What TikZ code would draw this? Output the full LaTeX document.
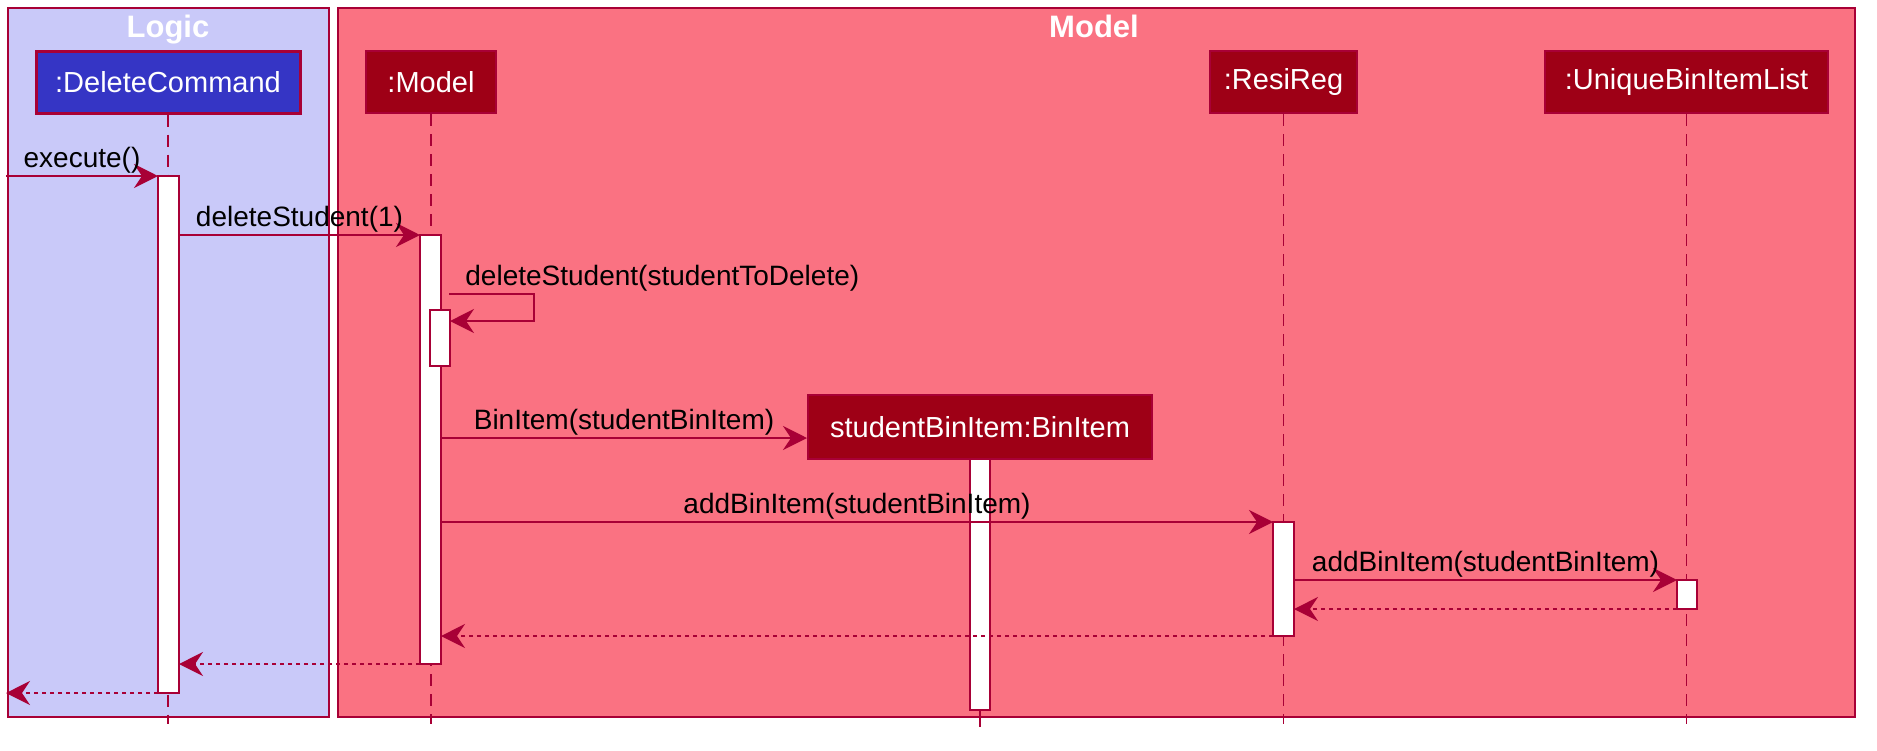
\documentclass[tikz,border=0pt]{standalone}
\usepackage{fontspec}
\setmainfont{Liberation Sans}
\usetikzlibrary{arrows.meta,fit}

\definecolor{umlred}{HTML}{A80036}
\definecolor{logicbg}{HTML}{C9C9F9}
\definecolor{modelbg}{HTML}{FA7282}
\definecolor{logichead}{HTML}{3535C5}
\definecolor{modelhead}{HTML}{9E0016}

\begin{document}
\begin{tikzpicture}[x=0.5pt, y=-0.5pt,
  >={Stealth[length=12pt,width=12pt,inset=4pt]},
  lane/.style={draw=umlred, line width=1pt},
  lanetitle/.style={text=white, font=\fontsize{15.5}{18}\selectfont\bfseries, anchor=base},
  head/.style={draw=umlred, line width=1pt, fill=modelhead, text=white,
    font=\fontsize{14.5}{17}\selectfont, minimum height=31pt, inner sep=0pt},
  life/.style={draw=umlred, line width=0.75pt, dash pattern=on 6pt off 4pt},
  act/.style={draw=umlred, line width=1pt, fill=white, inner sep=0pt, outer sep=0pt},
  msg/.style={->, draw=umlred, line width=1pt},
  ret/.style={msg, dash pattern=on 2pt off 2pt},
  lbl/.style={midway, above, inner sep=0.8pt, font=\fontsize{14}{16}\selectfont}]

  \useasboundingbox[fill=white] (0,0) rectangle (1877,750);

  % Lanes
  \draw[lane, fill=logicbg] (8,8) rectangle (329,717);
  \draw[lane, fill=modelbg] (338,8) rectangle (1855,717);
  \node[lanetitle] (tLogic) at (168,37) {Logic};
  \node[lanetitle] (tModel) at (1094,37) {Model};

  % Participants
  \node[head, fill=logichead, line width=1.5pt, minimum width=132pt] (hDC) at (168,82) {:DeleteCommand};
  \node[head, minimum width=65pt] (hModel) at (431,82) {:Model};
  \node[head, minimum width=73.5pt] (hResi) at (1283.5,82) {:ResiReg};
  \node[head, minimum width=141.5pt] (hList) at (1686.5,82) {:UniqueBinItemList};
  \node[head, minimum width=172pt, minimum height=32pt] (hBin) at (980,427) {studentBinItem:BinItem};

  % Lifelines
  \draw[life] (hDC) -- (hDC |- 0,724);
  \draw[life] (hModel) -- (hModel |- 0,724);
  \draw[life] (hResi) -- (hResi |- 0,724);
  \draw[life] (hList) -- (hList |- 0,724);
  \draw[umlred, line width=0.75pt] (hBin) -- (hBin |- 0,727);

  % Activations
  \node[act, fit={(158,176) (179,693)}] (actDC) {};
  \node[act, fit={(420,235) (441,664)}] (actM) {};
  \node[act, fit={(430,310) (450,366)}] (actN) {};
  \node[act, fit={(970,459) (990,710)}] (actBin) {};
  \node[act, fit={(1273,522) (1294,636)}] (actR) {};
  \node[act, fit={(1677,580) (1697,609)}] (actU) {};

  % Messages
  \coordinate (inDC) at (actDC.north -| 6,0);
  \coordinate (outDC) at (actDC.south -| 6,0);
  \coordinate (selfS) at (449,294);
  \draw[msg] (inDC) -- (actDC.north west) node[lbl] {execute()};
  \draw[msg] (actDC.east |- actM.north) -- (actM.north west) node[lbl] {deleteStudent(1)};
  \draw[msg] (selfS) -- ++(85,0) -- ++(0,27) -- (actN.east |- 0,321);
  \node[anchor=base west, font=\fontsize{14}{16}\selectfont, inner sep=0pt] (lSelf) at (465,285) {deleteStudent(studentToDelete)};
  \draw[msg] (actM.east |- 0,438) -- (hBin.west |- 0,438) node[lbl] {BinItem(studentBinItem)};
  \draw[msg] (actM.east |- actR.north) -- (actR.north west) node[lbl] {addBinItem(studentBinItem)};
  \draw[msg] (actR.east |- actU.north) -- (actU.north west) node[lbl] {addBinItem(studentBinItem)};
  \draw[ret] (actU.south west) -- (actR.east |- actU.south);
  \draw[ret] (actR.south west) -- (actM.east |- actR.south);
  \draw[ret] (actM.south west) -- (actDC.east |- actM.south);
  \draw[ret] (actDC.south west) -- (outDC);
\end{tikzpicture}
\end{document}
